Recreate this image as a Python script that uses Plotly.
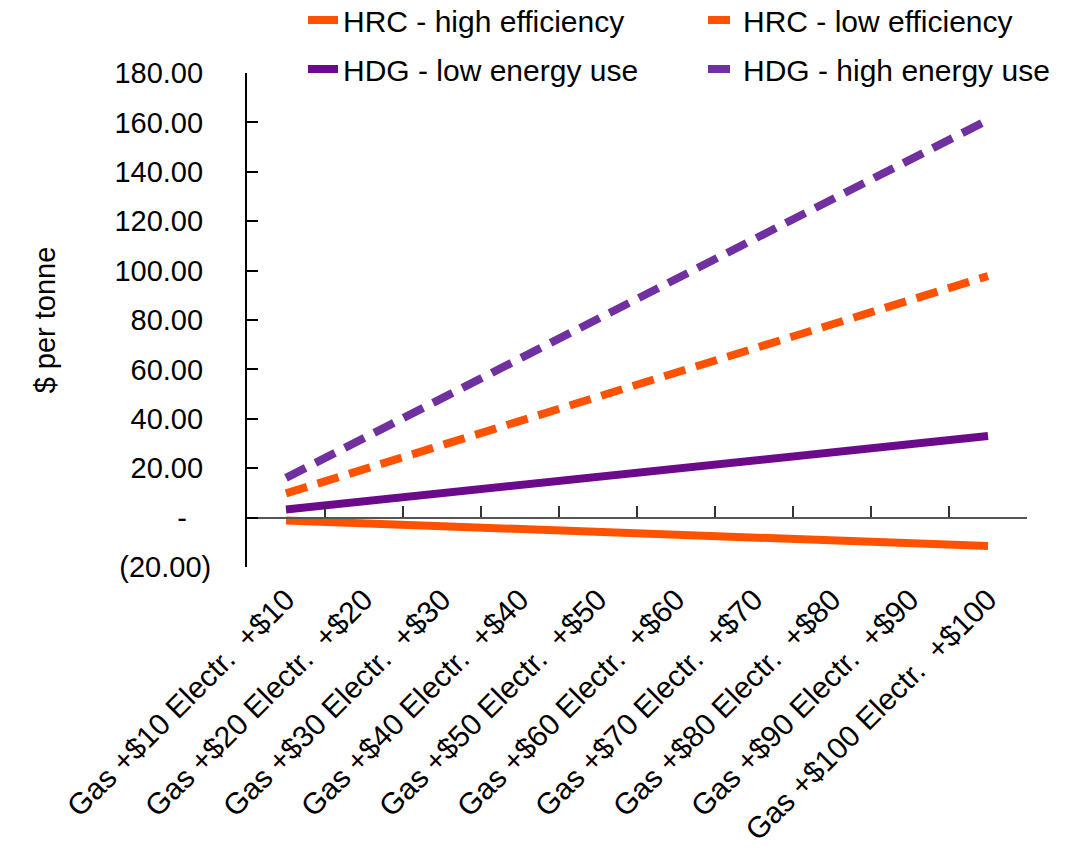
import plotly.graph_objects as go

categories = ["Gas +$10 Electr. +$10", "Gas +$20 Electr. +$20", "Gas +$30 Electr. +$30",
              "Gas +$40 Electr. +$40", "Gas +$50 Electr. +$50", "Gas +$60 Electr. +$60",
              "Gas +$70 Electr. +$70", "Gas +$80 Electr. +$80", "Gas +$90 Electr. +$90",
              "Gas +$100 Electr. +$100"]
hrc_high = [-1.2, -2.3, -3.5, -4.6, -5.8, -6.9, -8.1, -9.2, -10.4, -11.5]
hrc_low = [9.8, 19.6, 29.3, 39.1, 48.9, 58.7, 68.4, 78.2, 88.0, 97.8]
hdg_low = [3.3, 6.6, 9.9, 13.2, 16.5, 19.8, 23.1, 26.4, 29.7, 33.0]
hdg_high = [16.1, 32.2, 48.3, 64.4, 80.5, 96.6, 112.7, 128.8, 144.9, 161.0]
y_tickvals = [-20, 0, 20, 40, 60, 80, 100, 120, 140, 160, 180]
y_ticktext = ["(20.00)", "-\u00a0\u00a0\u00a0", "20.00\u00a0", "40.00\u00a0", "60.00\u00a0",
              "80.00\u00a0", "100.00\u00a0", "120.00\u00a0", "140.00\u00a0", "160.00\u00a0",
              "180.00\u00a0"]
x_ticktext = [c.replace("Electr. ", "Electr.\u00a0 ") for c in categories]

ORANGE = "#FF5200"
PURPLE = "#6C0A8C"
PURPLE2 = "#7030A0"
FONT = "Liberation Sans, Arial, sans-serif"
W = 8
DASH = "22px,11px"

fig = go.Figure()
fig.add_trace(go.Scatter(x=categories, y=hrc_high, mode="lines", name="HRC - high efficiency",
                         line=dict(color=ORANGE, width=W), legend="legend", legendgroup="a"))
fig.add_trace(go.Scatter(x=categories, y=hdg_low, mode="lines", name="HDG - low energy use",
                         line=dict(color=PURPLE, width=W), legend="legend", legendgroup="b"))
fig.add_trace(go.Scatter(x=categories, y=hrc_low, mode="lines", name="HRC - low efficiency",
                         line=dict(color=ORANGE, width=W, dash=DASH), legend="legend2", legendgroup="c"))
fig.add_trace(go.Scatter(x=categories, y=hdg_high, mode="lines", name="HDG - high energy use",
                         line=dict(color=PURPLE2, width=W, dash=DASH), legend="legend2", legendgroup="d"))
# invisible trace to carry the zero-line category axis
fig.add_trace(go.Scatter(x=categories, y=[0] * len(categories), xaxis="x2", mode="lines",
                         line=dict(width=0, color="rgba(0,0,0,0)"), showlegend=False, hoverinfo="skip"))

LEG_Y = 1 + (73 + 6) / 494
fig.update_layout(
    width=1084, height=850,
    margin=dict(l=247, r=57, t=73, b=283, autoexpand=False),
    paper_bgcolor="white", plot_bgcolor="white",
    font=dict(family=FONT, size=28, color="black"),
    xaxis=dict(type="category", range=[-0.5, 9.5], showline=False, ticks="", showgrid=False,
               zeroline=False, tickangle=-45, tickfont=dict(size=30), ticklabelstandoff=8,
               tickmode="array", tickvals=categories, ticktext=x_ticktext),
    xaxis2=dict(type="category", range=[-0.5, 9.5], overlaying="x", anchor="free", position=0.1,
                matches="x", showline=True, linecolor="#555555", linewidth=2, ticks="inside",
                tickson="boundaries", ticklen=11, tickcolor="#333333", tickwidth=2,
                showticklabels=False, showgrid=False, zeroline=False),
    yaxis=dict(range=[-20, 180], tickvals=y_tickvals, ticktext=y_ticktext, showline=True,
               linecolor="black", linewidth=2, ticks="inside", ticklen=11, tickcolor="black",
               tickwidth=2, showgrid=False, zeroline=False, tickfont=dict(size=29),
               ticklabelstandoff=28,
               title=dict(text="$ per tonne", font=dict(size=29), standoff=50)),
    legend=dict(x=(303 - 247) / 780, y=LEG_Y, xanchor="left", yanchor="top",
                orientation="v", font=dict(size=30), bgcolor="rgba(0,0,0,0)", tracegroupgap=7),
    legend2=dict(x=(703 - 247) / 780, y=LEG_Y, xanchor="left", yanchor="top",
                 orientation="v", font=dict(size=30), bgcolor="rgba(0,0,0,0)", tracegroupgap=7),
    showlegend=True,
)

fig.write_html("out.html")
